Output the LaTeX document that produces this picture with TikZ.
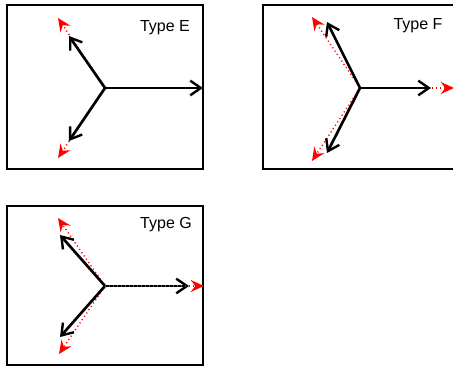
\documentclass[tikz,border=0pt]{standalone}
\usepackage{fontspec}
\setmainfont{Liberation Sans}
\usetikzlibrary{arrows.meta}
\begin{document}
\begin{tikzpicture}[x=0.75pt,y=-0.75pt,
  frame/.style={draw=black,line width=0.8pt},
  blackvec/.style={draw=black,line width=2pt,-{Straight Barb[length=8pt,width=11pt,line width=1.8pt]}},
  redvec/.style={draw=red,line width=1.1pt,dash pattern=on 0.8pt off 2.2pt,-{Stealth[length=10pt,width=9pt,inset=3.5pt,sep=0pt]}},
  label/.style={font=\fontsize{12pt}{14pt}\selectfont,anchor=base,inner sep=0pt}]
\useasboundingbox (0,0) rectangle (453,367);
% Type E
\draw[frame] (7,5) rectangle (203,169);
\coordinate (cE) at (105,88);
\coordinate (rE1) at (58,18);
\coordinate (rE2) at (58,158);
\coordinate (rE3) at (202,88);
\coordinate (bE1) at (69,36);
\coordinate (bE2) at (69,141);
\coordinate (bE3) at (203,88);
\draw[redvec] (cE) -- (rE1);
\draw[redvec] (cE) -- (rE2);
\draw[blackvec] (cE) -- (bE1);
\draw[blackvec] (cE) -- (bE2);
\draw[blackvec] (cE) -- (bE3);
\node[label] (tE) at (165,32) {Type E};
% Type F
\draw[frame] (263,5) rectangle (460,169);
\coordinate (cF) at (360,88);
\coordinate (rF1) at (312,17);
\coordinate (rF2) at (312,161);
\coordinate (rF3) at (454,88);
\coordinate (bF1) at (327,22);
\coordinate (bF2) at (327,153);
\coordinate (bF3) at (431,88);
\draw[redvec] (cF) -- (rF1);
\draw[redvec] (cF) -- (rF2);
\draw[redvec] (cF) -- (rF3);
\draw[blackvec] (cF) -- (bF1);
\draw[blackvec] (cF) -- (bF2);
\draw[blackvec] (cF) -- (bF3);
\node[label] (tF) at (418,30) {Type F};
% Type G
\draw[frame] (7,206) rectangle (203,365);
\coordinate (cG) at (105,286);
\coordinate (rG1) at (58,218);
\coordinate (rG2) at (59,354);
\coordinate (rG3) at (204,286);
\coordinate (bG1) at (60,235);
\coordinate (bG2) at (60,337);
\coordinate (bG3) at (189,286);
\draw[redvec] (cG) -- (rG1);
\draw[redvec] (cG) -- (rG2);
\draw[blackvec] (cG) -- (bG1);
\draw[blackvec] (cG) -- (bG2);
\draw[blackvec] (cG) -- (bG3);
\draw[redvec] (cG) -- (rG3);
\node[label] (tG) at (166,228) {Type G};
\end{tikzpicture}
\end{document}
